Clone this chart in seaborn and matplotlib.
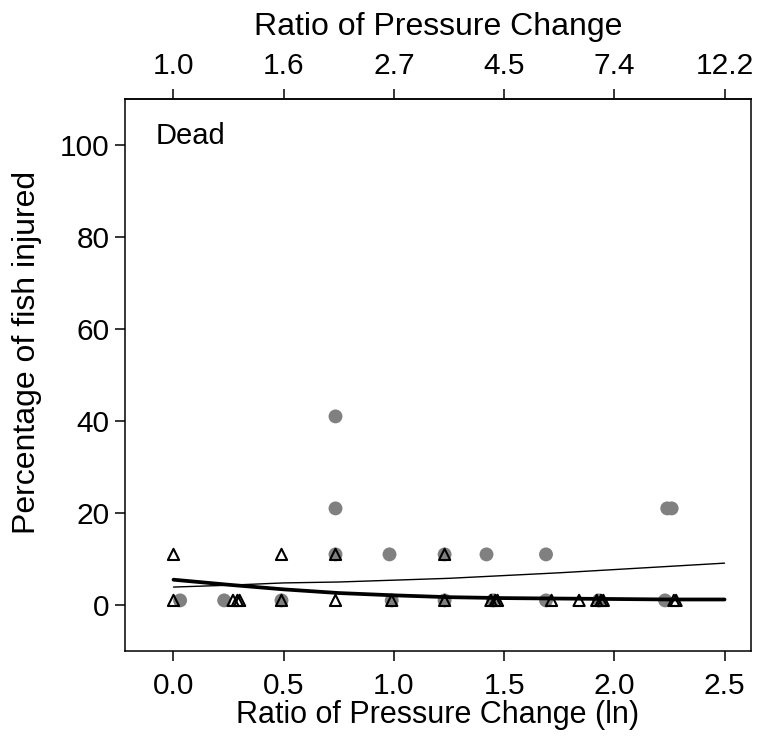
import matplotlib
matplotlib.use("Agg")
import matplotlib.pyplot as plt
import seaborn as sns
import pandas as pd

sns.set_theme(style="ticks")
plt.rcParams["font.family"] = ["Liberation Sans", "DejaVu Sans"]
plt.rcParams["text.color"] = "black"
plt.rcParams["axes.labelcolor"] = "black"
plt.rcParams["xtick.color"] = "black"
plt.rcParams["ytick.color"] = "black"

# Gray filled circles: ln(pressure ratio) vs percentage injured
circle_x = [0.03, 0.23, 0.49, 0.735, 0.735, 0.735, 0.98, 0.99, 1.23, 1.23,
            1.42, 1.45, 1.69, 1.69, 1.93, 2.23, 2.24, 2.26]
circle_y = [1, 1, 1, 41, 21, 11, 11, 1, 11, 1,
            11, 1, 11, 1, 1, 1, 21, 21]

# Open triangles
tri_x = [0.0, 0.0, 0.27, 0.29, 0.30, 0.49, 0.49, 0.735, 0.735, 0.99,
         1.23, 1.23, 1.44, 1.46, 1.47, 1.715, 1.84, 1.92, 1.94, 1.95,
         2.27, 2.28]
tri_y = [11, 1, 1, 1, 1, 11, 1, 11, 1, 1,
         11, 1, 1, 1, 1, 1, 1, 1, 1, 1,
         1, 1]

# Fitted curves
fit_x = [0.0, 0.25, 0.5, 0.75, 1.0, 1.25, 1.5, 1.75, 2.0, 2.25, 2.5]
fit_thick = [5.5, 4.4, 3.4, 2.6, 2.1, 1.7, 1.5, 1.4, 1.3, 1.2, 1.2]
fit_thin = [3.9, 4.3, 4.8, 5.0, 5.4, 5.8, 6.4, 7.0, 7.7, 8.4, 9.1]

bottom_ticks = [0.0, 0.5, 1.0, 1.5, 2.0, 2.5]
bottom_labels = ["0.0", "0.5", "1.0", "1.5", "2.0", "2.5"]
top_labels = ["1.0", "1.6", "2.7", "4.5", "7.4", "12.2"]
y_ticks = [0, 20, 40, 60, 80, 100]

circles = pd.DataFrame({"x": circle_x, "y": circle_y})
triangles = pd.DataFrame({"x": tri_x, "y": tri_y})
fits = pd.DataFrame({"x": fit_x, "thick": fit_thick, "thin": fit_thin})

fig = plt.figure(figsize=(7.74, 7.37), dpi=100)
ax = fig.add_axes([125 / 774, 1 - 651 / 737, (751 - 125) / 774, (651 - 99) / 737])

sns.scatterplot(data=circles, x="x", y="y", ax=ax, color="#808080", s=100,
                marker="o", edgecolor="none", zorder=3)
sns.scatterplot(data=triangles, x="x", y="y", ax=ax, marker="^", s=65,
                facecolor="none", edgecolor="black", linewidth=1.5, zorder=4)
sns.lineplot(data=fits, x="x", y="thin", ax=ax, color="black", linewidth=1.0, zorder=5)
sns.lineplot(data=fits, x="x", y="thick", ax=ax, color="black", linewidth=2.7, zorder=5)

ax.set_xlim(-0.22, 2.62)
ax.set_ylim(-10, 110)
ax.set_xticks(bottom_ticks)
ax.set_xticklabels(bottom_labels)
ax.set_yticks(y_ticks)
ax.set_yticklabels([str(v) for v in y_ticks])
ax.tick_params(axis="both", labelsize=21.5, length=7, width=1.1, direction="out")
ax.tick_params(axis="x", pad=8)
ax.tick_params(axis="y", pad=4)
ax.set_xlabel("Ratio of Pressure Change (ln)", fontsize=22, labelpad=0)
ax.set_ylabel("Percentage of fish injured", fontsize=23)
ax.yaxis.set_label_coords(-0.133, 0.54)

for side in ["left", "right", "top", "bottom"]:
    ax.spines[side].set_visible(True)
    ax.spines[side].set_color("black")
    ax.spines[side].set_linewidth(1.1)

top = ax.secondary_xaxis("top")
top.set_xticks(bottom_ticks)
top.set_xticklabels(top_labels)
top.tick_params(labelsize=21.5, length=7, width=1.1, pad=7)
top.set_xlabel("Ratio of Pressure Change", fontsize=23, labelpad=12)

ax.text(-0.08, 102, "Dead", fontsize=21, va="center", ha="left")

fig.savefig("out.png", dpi=100)
